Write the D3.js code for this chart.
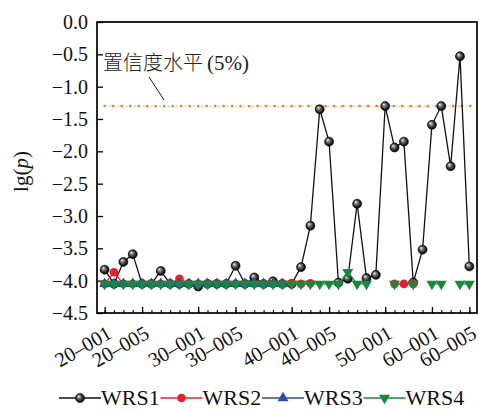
<!DOCTYPE html>
<html>
<head>
<meta charset="utf-8">
<script src="https://cdn.jsdelivr.net/npm/d3@7"></script>
<style>
body { margin: 0; background: #fff; }
svg { display: block; }
</style>
</head>
<body>
<svg></svg>
<script>
// Sample names along the x axis
var categories = [
	"20–001", "20–002", "20–003", "20–004", "20–005", "20–006", "20–007", "20–008", "20–009", "20–010",
	"30–001", "30–002", "30–003", "30–004", "30–005", "30–006", "30–007", "30–008", "30–009", "30–010",
	"40–001", "40–002", "40–003", "40–004", "40–005", "40–006", "40–007", "40–008", "40–009", "40–010",
	"50–001", "50–002", "50–003", "50–004", "50–005",
	"60–001", "60–002", "60–003", "60–004", "60–005"
];

// Labelled ticks
var xLabels = ["20–001", "20–005", "30–001", "30–005", "40–001", "40–005", "50–001", "60–001", "60–005"];
var yTicks = [0, -0.5, -1, -1.5, -2, -2.5, -3, -3.5, -4, -4.5];

// lg(p) of each series, null where there is no value
var wrs1 = [-3.83, -4.05, -3.71, -3.59, -4.05, -4.05, -3.85, -4.05, -4.05, -4.05,
	-4.09, -4.05, -4.05, -4.05, -3.77, -4.05, -3.95, -4.05, -4.01, -4.05,
	-4.05, -3.79, -3.15, -1.35, -1.85, -4.03, -3.97, -2.81, -3.96, -3.91,
	-1.30, -1.94, -1.85, -4.03, -3.52,
	-1.59, -1.30, -2.23, -0.53, -3.78];
var wrs2 = [-4.05, -3.87, -4.05, -4.05, -4.05, -4.05, -4.05, -4.05, -3.97, -4.05,
	-4.05, -4.05, -4.04, -4.05, -4.05, -4.05, -4.05, -4.05, -4.05, -4.05,
	-4.04, -4.05, -4.04, null, null, null, null, null, null, null,
	null, -4.05, -4.05, -4.05, null,
	null, null, null, null, null];
var wrs3 = [-4.05, -4.05, -4.05, -4.05, -4.05, -4.05, -4.05, -4.05, -4.05, -4.05,
	-4.05, -4.05, -4.05, -4.05, -4.05, -4.05, -4.05, -4.05, -4.05, -4.05,
	null, null, null, null, null, null, null, null, null, null,
	null, null, null, null, null,
	null, null, null, null, null];
var wrs4 = [-4.05, -4.05, -4.05, -4.05, -4.05, -4.05, -4.05, -4.05, -4.05, -4.05,
	-4.05, -4.05, -4.05, -4.05, -4.05, -4.05, -4.05, -4.05, -4.05, -4.05,
	-4.05, -4.05, -4.05, -4.05, -4.05, -4.05, -3.87, -4.05, -4.05, null,
	null, -4.05, null, -4.05, null,
	-4.05, -4.05, null, -4.05, -4.05];

var seriesNames = ["WRS1", "WRS2", "WRS3", "WRS4"];
var significance = -1.30; // lg(0.05)

var WIDTH = 479,
	HEIGHT = 410,
	MARGIN = {top: 22, right: 2, bottom: 97, left: 97};

var SERIF = "'Liberation Serif', 'Times New Roman', serif";

var svg = d3.select("svg")
	.attr("width", WIDTH)
	.attr("height", HEIGHT)
	.attr("font-family", SERIF);

var PLOT_R = WIDTH - MARGIN.right,
	PLOT_B = HEIGHT - MARGIN.bottom;

var x = d3.scalePoint()
	.domain(categories)
	.range([MARGIN.left, PLOT_R])
	.padding(0.82);

var y = d3.scaleLinear()
	.domain([-4.5, 0])
	.range([PLOT_B, MARGIN.top]);

// Shaded ball for WRS1
var grad = svg.append("defs").append("radialGradient")
	.attr("id", "ball")
	.attr("cx", "50%").attr("cy", "50%").attr("r", "55%")
	.attr("fx", "32%").attr("fy", "30%");
grad.append("stop").attr("offset", "0%").attr("stop-color", "#f4f4f4");
grad.append("stop").attr("offset", "35%").attr("stop-color", "#777");
grad.append("stop").attr("offset", "75%").attr("stop-color", "#1a1a1a");
grad.append("stop").attr("offset", "100%").attr("stop-color", "#000");

var series = [
	{name: seriesNames[0], values: wrs1, color: "#111", marker: "ball"},
	{name: seriesNames[1], values: wrs2, color: "#e8202a", marker: "dot"},
	{name: seriesNames[2], values: wrs3, color: "#2d4da6", marker: "up"},
	{name: seriesNames[3], values: wrs4, color: "#168a3c", marker: "down"}
];

function drawMarker(g, s, cx, cy) {
	if (s.marker == "ball") {
		g.append("circle").attr("cx", cx).attr("cy", cy).attr("r", 4.5)
			.attr("fill", "url(#ball)").attr("stroke", "#000").attr("stroke-width", 0.6);
	} else if (s.marker == "dot") {
		g.append("circle").attr("cx", cx).attr("cy", cy).attr("r", 4.3)
			.attr("fill", s.color);
	} else {
		g.append("path")
			.attr("d", d3.symbol(d3.symbolTriangle, 52)())
			.attr("transform", "translate(" + cx + "," + cy + ")" + (s.marker == "down" ? " rotate(180)" : ""))
			.attr("fill", s.color);
	}
}

//////////// Axes frame and ticks

svg.append("rect")
	.attr("x", MARGIN.left).attr("y", MARGIN.top)
	.attr("width", PLOT_R - MARGIN.left).attr("height", PLOT_B - MARGIN.top)
	.attr("fill", "none").attr("stroke", "#000").attr("stroke-width", 1.7);

var yAxis = svg.append("g")
	.attr("transform", "translate(" + MARGIN.left + ",0)")
	.call(d3.axisLeft(y).tickValues(yTicks).tickSize(-6).tickPadding(9)
		.tickFormat(function(d) { return d3.format(".1f")(d).replace("-", "−"); }));
yAxis.select(".domain").remove();
yAxis.selectAll("line").attr("stroke-width", 1.3);
yAxis.selectAll("text").attr("font-size", 20).attr("font-family", SERIF).attr("fill", "#111");

// Minor x ticks, one per sample
var xMinor = svg.append("g")
	.attr("transform", "translate(0," + PLOT_B + ")")
	.call(d3.axisBottom(x).tickSize(-3).tickFormat(""));
xMinor.select(".domain").remove();
xMinor.selectAll("line").attr("stroke-width", 1.1);

// Major x ticks with slanted labels
var xMajor = svg.append("g")
	.attr("transform", "translate(0," + PLOT_B + ")")
	.call(d3.axisBottom(x).tickValues(xLabels).tickSize(-6));
xMajor.select(".domain").remove();
xMajor.selectAll("line").attr("stroke-width", 1.3);
xMajor.selectAll("text")
	.attr("font-size", 20.5)
	.attr("font-family", SERIF)
	.attr("fill", "#111")
	.attr("text-anchor", "end")
	.attr("x", 0).attr("y", 0).attr("dy", 0)
	.attr("transform", "translate(8,24) rotate(-30)");

// y axis title
svg.append("text")
	.attr("transform", "translate(28," + (MARGIN.top + (PLOT_B - MARGIN.top) / 2 + 4) + ") rotate(-90)")
	.attr("text-anchor", "middle")
	.attr("font-size", 21)
	.attr("fill", "#111")
	.html("lg(<tspan font-style='italic'>p</tspan>)");

//////////// Significance level

var sigY = y(significance);
svg.append("line")
	.attr("x1", x(categories[0])).attr("x2", PLOT_R - 3)
	.attr("y1", sigY).attr("y2", sigY)
	.attr("stroke", "#f5821f").attr("stroke-width", 0.8).attr("stroke-dasharray", "2,2.2").attr("opacity", 0.8);
svg.append("line")
	.attr("x1", x(categories[0])).attr("x2", PLOT_R - 3)
	.attr("y1", sigY).attr("y2", sigY)
	.attr("stroke", "#f5821f").attr("stroke-width", 2.7)
	.attr("stroke-linecap", "round").attr("stroke-dasharray", "0,8.5");

var note = svg.append("text")
	.attr("x", 103).attr("y", 70)
	.attr("font-size", 20)
	.attr("fill", "#222");
note.append("tspan")
	.attr("font-family", "'Noto Sans CJK SC', sans-serif")
	.attr("font-weight", 300)
	.text("置信度水平");
note.append("tspan")
	.attr("dx", 4)
	.attr("font-family", SERIF)
	.attr("font-size", 21)
	.text("(5%)");

svg.append("line")
	.attr("x1", 149).attr("y1", 77)
	.attr("x2", 164).attr("y2", 100)
	.attr("stroke", "#222").attr("stroke-width", 1);

//////////// Series

var line = d3.line()
	.defined(function(d) { return d != null; })
	.x(function(d, i) { return x(categories[i]); })
	.y(function(d) { return y(d); });

series.forEach(function(s) {
	var g = svg.append("g");
	g.append("path")
		.datum(s.values)
		.attr("d", line)
		.attr("fill", "none")
		.attr("stroke", s.color)
		.attr("stroke-width", 1.3);
	s.values.forEach(function(v, i) {
		if (v != null) drawMarker(g, s, x(categories[i]), y(v));
	});
});

//////////// Legend

var LEG_Y = 398;
series.forEach(function(s, i) {
	var x0 = 59 + i * 101.5;
	var g = svg.append("g");
	g.append("line")
		.attr("x1", x0).attr("x2", x0 + 42)
		.attr("y1", LEG_Y).attr("y2", LEG_Y)
		.attr("stroke", s.color).attr("stroke-width", 1.3);
	drawMarker(g, s, x0 + 21, LEG_Y);
	g.append("text")
		.attr("x", x0 + 42).attr("y", LEG_Y + 7)
		.attr("font-size", 22)
		.attr("fill", "#111")
		.text(s.name);
});
</script>
</body>
</html>
